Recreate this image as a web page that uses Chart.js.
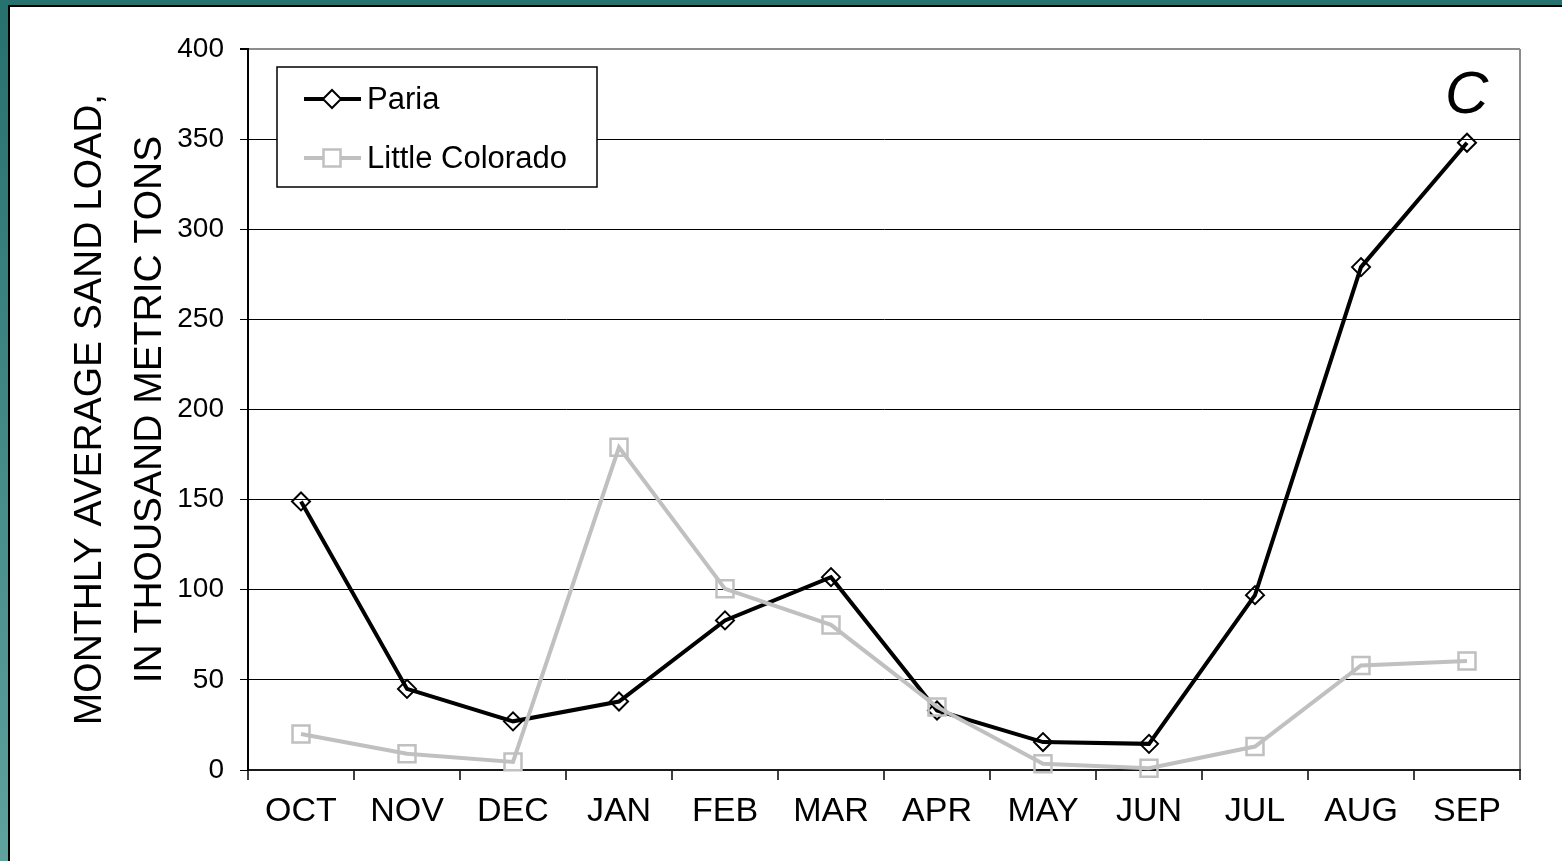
<!DOCTYPE html>
<html>
<head>
<meta charset="utf-8">
<script src="https://cdn.jsdelivr.net/npm/chart.js@4/dist/chart.umd.min.js"></script>
<style>
  html, body { margin: 0; padding: 0; background: #fff; }
  #wrap { width: 1562px; height: 861px; }
</style>
</head>
<body>
<div id="wrap"><canvas id="sandCanvas" width="1562" height="861"></canvas></div>
<script>
const months = ['OCT', 'NOV', 'DEC', 'JAN', 'FEB', 'MAR', 'APR', 'MAY', 'JUN', 'JUL', 'AUG', 'SEP'];
const pariaLoad = [149, 45, 27, 38, 83, 107, 33, 15.5, 14.5, 97, 279, 348];
const littleColoradoLoad = [20, 9, 4.5, 179, 100.5, 80.5, 35, 3.5, 1, 13, 58, 60.5];
const yTicks = [0, 50, 100, 150, 200, 250, 300, 350, 400];
const axisTitle = ['MONTHLY AVERAGE SAND LOAD,', 'IN THOUSAND METRIC TONS'];
const panelLetter = 'C';

const FONT = "'Liberation Sans', Arial, sans-serif";

// teal frame on top / left edge
const framePlugin = {
  id: 'frame',
  beforeDraw(chart) {
    const c = chart.ctx;
    c.save();
    c.fillStyle = '#fff';
    c.fillRect(0, 0, chart.width, chart.height);
    c.restore();
  },
  afterDraw(chart) {
    const c = chart.ctx;
    c.save();
    const g = c.createLinearGradient(0, 0, 0, chart.height);
    g.addColorStop(0, '#26706e');
    g.addColorStop(1, '#5fa29e');
    c.fillStyle = g;
    c.fillRect(0, 0, 8, chart.height);
    c.fillStyle = '#27716f';
    c.fillRect(0, 0, chart.width, 5);
    c.fillStyle = '#000';
    c.fillRect(8, 5, 2, chart.height);
    c.fillRect(8, 5, chart.width, 2);
    c.restore();
  }
};

// boxed legend inside the plot + panel letter
const boxLegend = {
  id: 'boxLegend',
  afterDatasetsDraw(chart) {
    const c = chart.ctx;
    c.save();
    c.fillStyle = '#fff';
    c.fillRect(277, 67, 320, 120);
    c.strokeStyle = '#000';
    c.lineWidth = 1.5;
    c.strokeRect(277, 67, 320, 120);
    chart.data.datasets.forEach((ds, i) => {
      const y = 99 + i * 59;
      c.strokeStyle = ds.borderColor;
      c.lineWidth = ds.borderWidth;
      c.beginPath();
      c.moveTo(304, y);
      c.lineTo(361, y);
      c.stroke();
      c.fillStyle = 'rgba(255,255,255,1)';
      c.strokeStyle = ds.pointBorderColor;
      c.lineWidth = ds.pointBorderWidth;
      Chart.helpers.drawPoint(c, {
        pointStyle: ds.pointStyle, radius: ds.pointRadius,
        borderWidth: ds.pointBorderWidth, rotation: 0
      }, 332, y);
      c.fillStyle = '#000';
      c.font = '31px ' + FONT;
      c.textBaseline = 'middle';
      c.textAlign = 'left';
      c.fillText(ds.label, 367, y + 1);
    });
    c.font = 'italic 60px ' + FONT;
    c.textAlign = 'left';
    c.textBaseline = 'alphabetic';
    c.fillText(panelLetter, 1445, 113);
    c.restore();
  }
};

const config = {
  type: 'line',
  data: {
    labels: months,
    datasets: [{
      label: 'Paria',
      data: pariaLoad,
      borderColor: '#000',
      borderWidth: 4,
      pointStyle: 'rectRot',
      pointRadius: 9,
      pointBorderWidth: 2,
      pointBorderColor: '#000',
      pointBackgroundColor: 'rgba(0,0,0,0)',
      tension: 0,
      order: 1,
      clip: false
    }, {
      label: 'Little Colorado',
      data: littleColoradoLoad,
      borderColor: '#c0c0c0',
      borderWidth: 4,
      pointStyle: 'rect',
      pointRadius: 12,
      pointBorderWidth: 2.5,
      pointBorderColor: '#c0c0c0',
      pointBackgroundColor: 'rgba(0,0,0,0)',
      tension: 0,
      order: 0,
      clip: false
    }]
  },
  options: {
    responsive: false,
    animation: false,
    events: [],
    layout: { padding: { left: 0, top: 49, right: 42, bottom: 0 } },
    plugins: {
      legend: { display: false },
      tooltip: { enabled: false }
    },
    scales: {
      x: {
        offset: true,
        grid: {
          offset: true,
          drawOnChartArea: true,
          color: c => c.type === 'tick' ? 'rgba(0,0,0,0)' : '#8c8c8c',
          lineWidth: 2,
          tickColor: '#000',
          tickWidth: 1.5,
          tickLength: 10
        },
        border: { color: '#1a1a1a', width: 2 },
        ticks: {
          color: '#000',
          font: { family: FONT, size: 34 },
          padding: 11,
          maxRotation: 0,
          autoSkip: false
        },
        afterFit(scale) { scale.height = 91; }
      },
      y: {
        min: 0,
        max: 400,
        afterBuildTicks(scale) { scale.ticks = yTicks.map(v => ({ value: v })); },
        grid: {
          color: c => c.tick && c.tick.value === 400 ? '#8c8c8c' : '#000',
          lineWidth: c => c.tick && c.tick.value === 400 ? 2 : 1,
          tickColor: '#000',
          tickLength: 8
        },
        border: { color: '#000', width: 2 },
        ticks: {
          color: '#000',
          font: { family: FONT, size: 28 },
          padding: 16
        },
        title: {
          display: true,
          text: axisTitle,
          color: '#000',
          font: { family: FONT, size: 39, lineHeight: '60px' },
          padding: { top: 60, bottom: 0 }
        },
        afterFit(scale) { scale.width = 248; }
      }
    }
  },
  plugins: [framePlugin, boxLegend]
};

const ctx = document.getElementById('sandCanvas').getContext('2d');
new Chart(ctx, config);
</script>
</body>
</html>
